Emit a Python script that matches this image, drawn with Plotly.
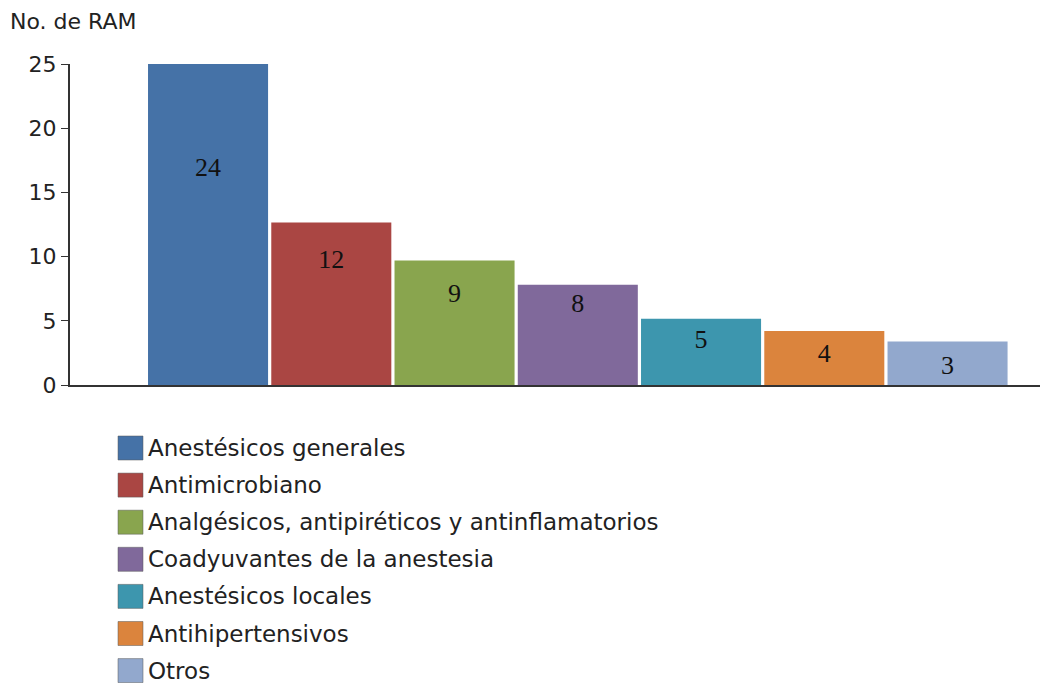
import plotly.graph_objects as go

categories = ["Anestésicos generales", "Antimicrobiano",
              "Analgésicos, antipiréticos y antinflamatorios",
              "Coadyuvantes de la anestesia", "Anestésicos locales",
              "Antihipertensivos", "Otros"]
bar_heights = [25.0, 12.66, 9.7, 7.8, 5.15, 4.2, 3.38]
bar_labels = ["24", "12", "9", "8", "5", "4", "3"]
label_pos = [16.8, 9.6, 6.95, 6.17, 3.36, 2.27, 1.33]
colors = ["#4572A7", "#AA4643", "#89A54E", "#80699B", "#3D96AE", "#DB843D", "#92A8CD"]
y_ticks = [0, 5, 10, 15, 20, 25]

# page body has an 8px margin; figure coordinates are offset by it
OFF = 8
W, H = 1048 - OFF, 683 - OFF
m_l, m_r, m_t, m_b = 70 - OFF, 0, 64 - OFF, 298
plot_h = H - m_t - m_b
plot_w = W - m_l - m_r


def px_x(x):
    return (x - OFF - m_l) / plot_w


def px_y(y):
    return (H - m_b - (y - OFF)) / plot_h


fig = go.Figure()
x_idx = list(range(len(categories)))
fig.add_trace(go.Bar(
    x=x_idx, y=bar_heights, marker=dict(color=colors, line=dict(width=0)),
    showlegend=False, hoverinfo="skip"))
fig.add_trace(go.Scatter(
    x=x_idx, y=label_pos, text=bar_labels, mode="text",
    textfont=dict(family="Liberation Serif", size=26, color="#111111"),
    showlegend=False, hoverinfo="skip"))

# custom legend below plot
shapes = []
annotations = []
for i, (name, col) in enumerate(zip(categories, colors)):
    cy = 448 + 37.1 * i
    shapes.append(dict(type="rect", xref="paper", yref="paper",
                       x0=px_x(118), x1=px_x(143),
                       y0=px_y(cy + 12), y1=px_y(cy - 12), fillcolor=col,
                       line=dict(color="rgba(90,90,90,0.5)", width=1)))
    annotations.append(dict(xref="paper", yref="paper",
                            x=px_x(146), y=px_y(cy), text=name,
                            showarrow=False, xanchor="left", yanchor="middle",
                            font=dict(family="DejaVu Sans", size=23, color="#222222")))

annotations.append(dict(xref="paper", yref="paper", x=px_x(8),
                        y=px_y(21), text="No. de RAM",
                        showarrow=False, xanchor="left", yanchor="middle",
                        font=dict(family="DejaVu Sans", size=22, color="#222222")))

fig.update_layout(
    width=W, height=H, margin=dict(l=m_l, r=m_r, t=m_t, b=m_b),
    paper_bgcolor="white", plot_bgcolor="white",
    bargap=0.026, shapes=shapes, annotations=annotations,
    xaxis=dict(range=[-1.12, 6.815], showticklabels=False, ticks="",
               showgrid=False, zeroline=False, showline=True,
               linecolor="#333333", linewidth=2, fixedrange=True),
    yaxis=dict(range=[0, 25], tickvals=y_ticks, showgrid=False, zeroline=False,
               showline=True, linecolor="#333333", linewidth=2,
               ticks="outside", ticklen=7, tickcolor="#333333",
               tickfont=dict(family="DejaVu Sans", size=22, color="#222222"),
               fixedrange=True),
    font=dict(family="DejaVu Sans"),
)

fig.write_html("out.html")
